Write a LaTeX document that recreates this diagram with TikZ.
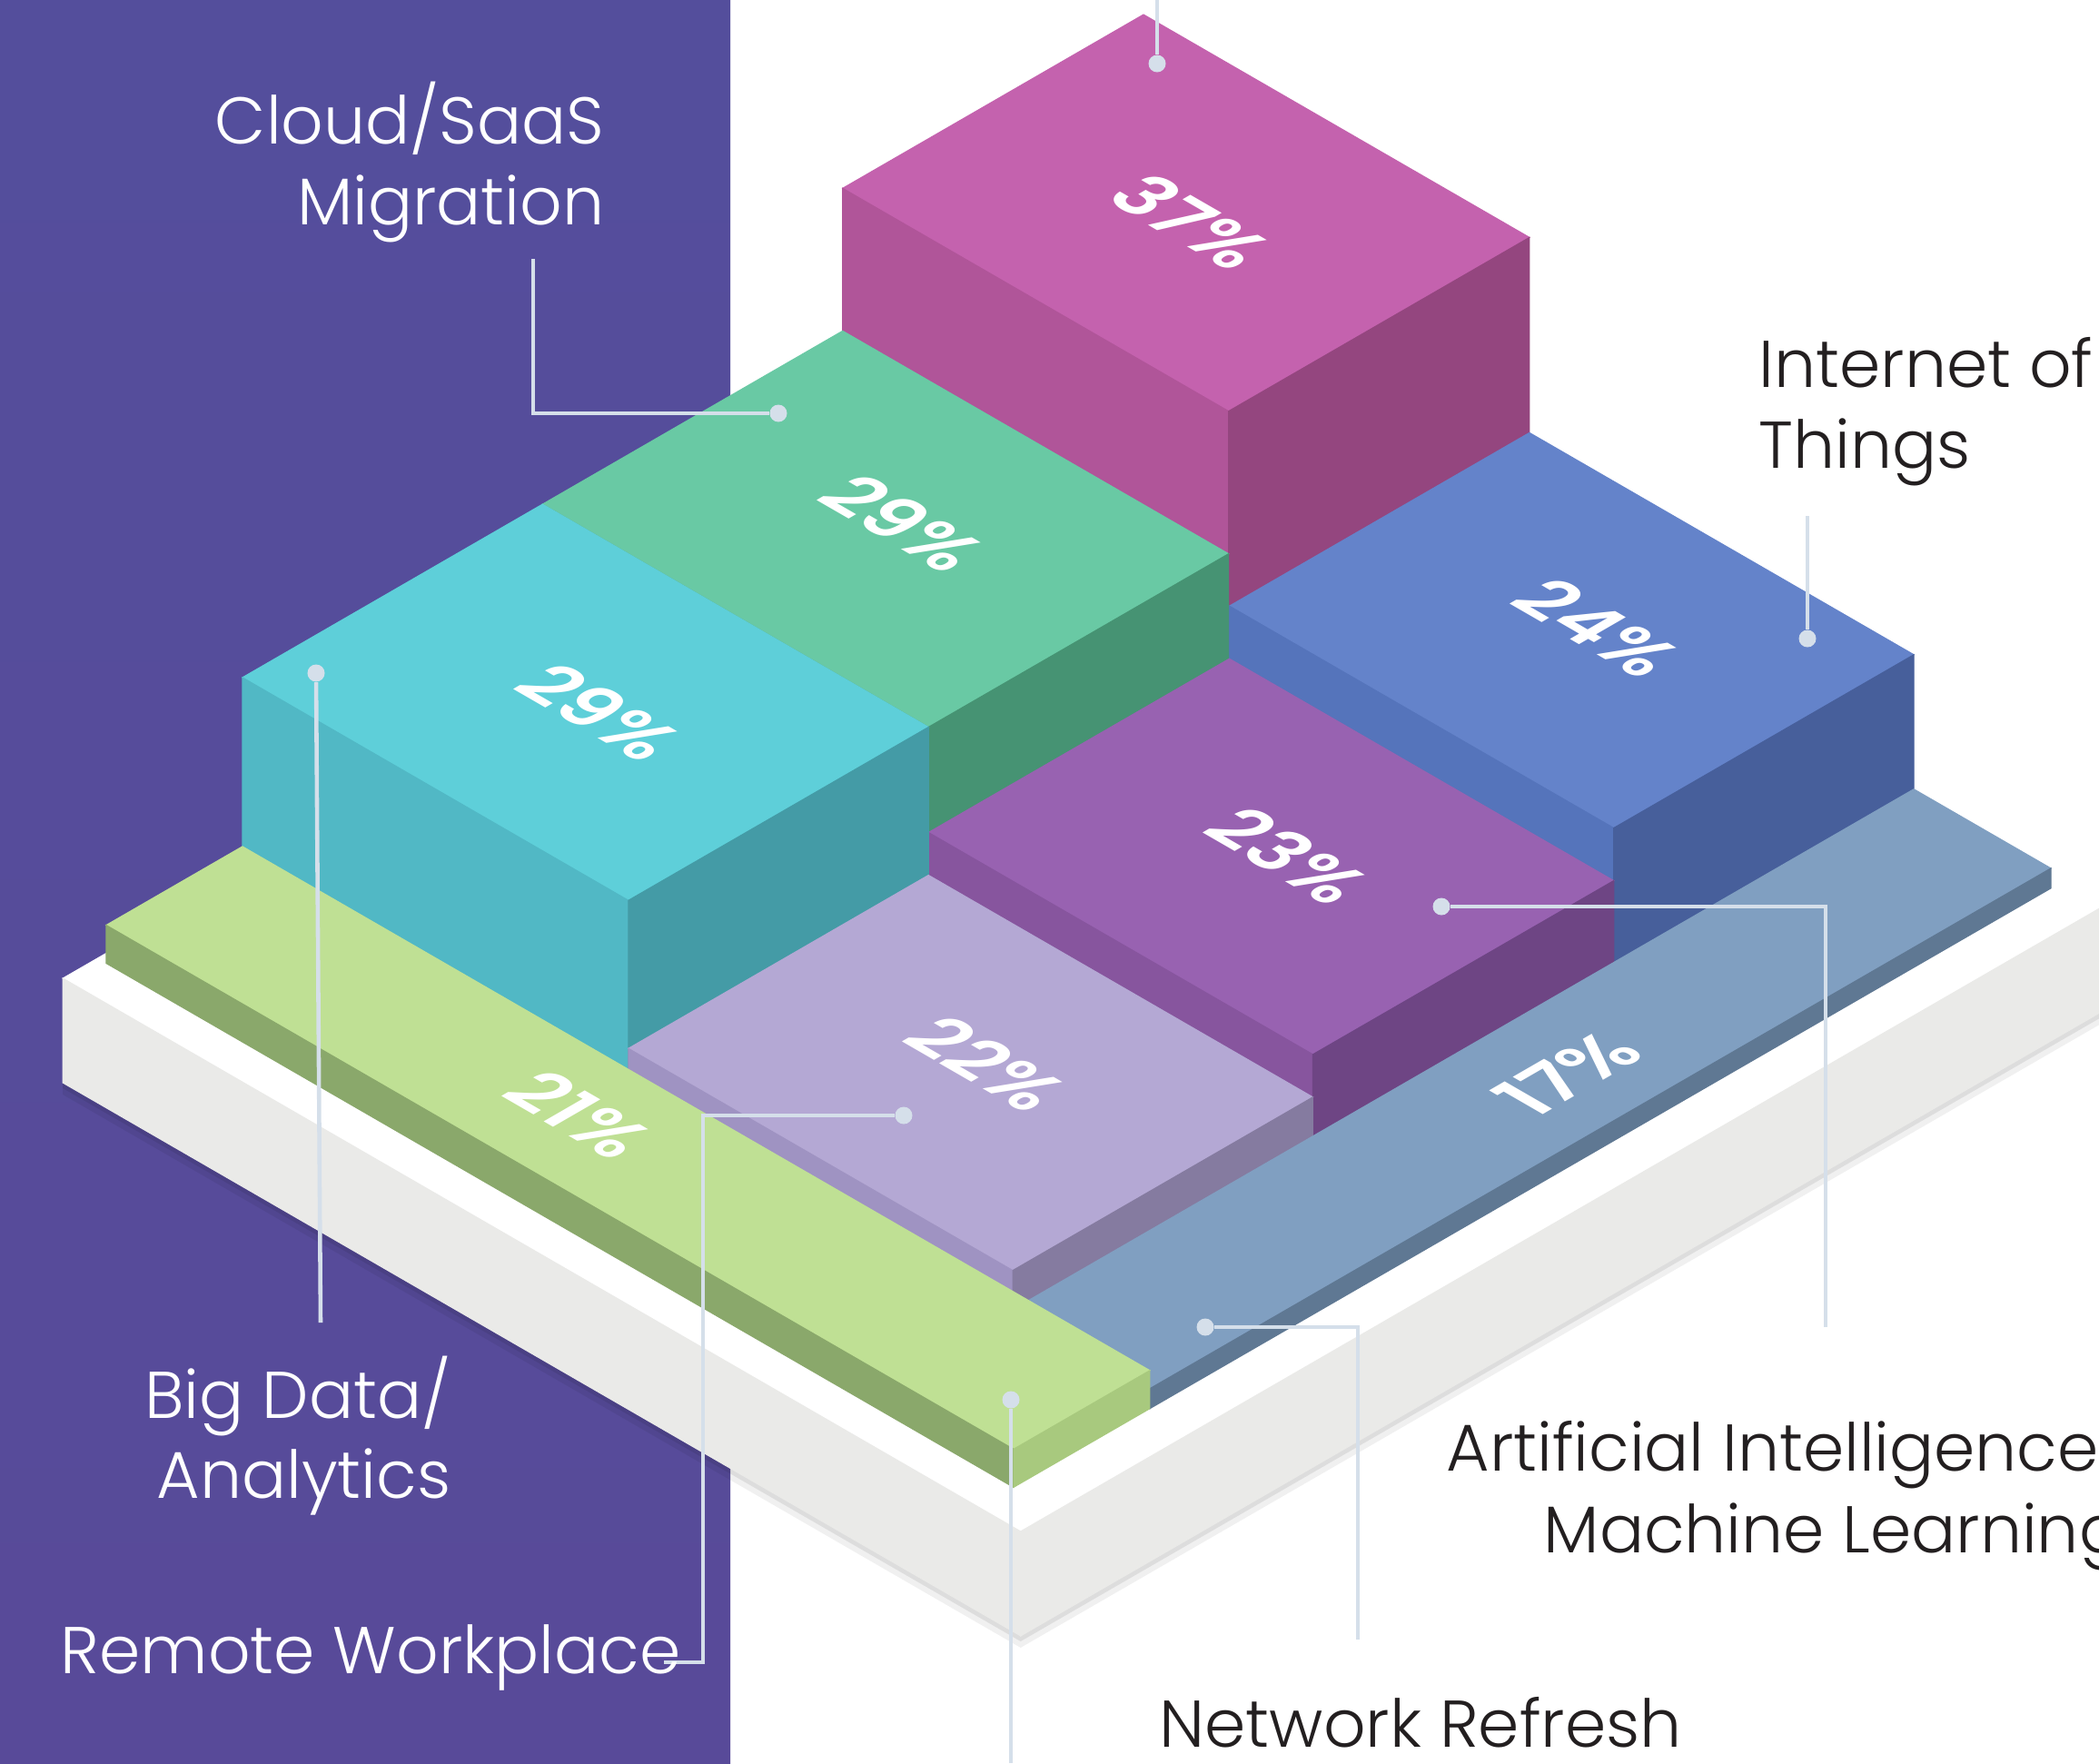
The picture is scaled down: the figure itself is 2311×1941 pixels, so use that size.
\documentclass[tikz,border=0pt]{standalone}
\usepackage{fontspec}
\usepackage{xcolor}
\usepackage{tikz}
\setmainfont{Poppins}
\newif\iflightfound
\IfFontExistsTF{Poppins Light}{\newfontfamily\labelfont{Poppins Light}\lightfoundtrue}{%
  \IfFontExistsTF{Poppins-Light}{\newfontfamily\labelfont{Poppins-Light}\lightfoundtrue}{\newcommand\labelfont{\normalfont}}}
\IfFontExistsTF{Poppins SemiBold}{\newfontfamily\pctfont{Poppins SemiBold}}{%
  \IfFontExistsTF{Poppins-SemiBold}{\newfontfamily\pctfont{Poppins-SemiBold}}{\newcommand\pctfont{\bfseries}}}
\iflightfound
  \newcommand\lblsize{\fontsize{20.7}{25}\selectfont}
\else
  \newcommand\lblsize{\fontsize{19.9}{24}\selectfont}
\fi

\definecolor{bgpurple}{RGB}{84,78,156}
\definecolor{bgpurpledark}{RGB}{88,74,153}
\definecolor{magtop}{HTML}{C462AE}
\definecolor{magleft}{HTML}{B05599}
\definecolor{magright}{HTML}{94467F}
\definecolor{grntop}{HTML}{69C9A4}
\definecolor{grnleft}{HTML}{58B08E}
\definecolor{grnright}{HTML}{469373}
\definecolor{cyntop}{HTML}{5ECFD9}
\definecolor{cynleft}{HTML}{51B8C5}
\definecolor{cynright}{HTML}{449BA6}
\definecolor{blutop}{HTML}{6483CA}
\definecolor{bluleft}{HTML}{5574BB}
\definecolor{bluright}{HTML}{475F9B}
\definecolor{purtop}{HTML}{9862B1}
\definecolor{purleft}{HTML}{87559E}
\definecolor{purright}{HTML}{6E4584}
\definecolor{lavtop}{HTML}{B4A8D4}
\definecolor{lavleft}{HTML}{9F93C2}
\definecolor{lavright}{HTML}{857BA0}
\definecolor{bstop}{HTML}{809FC1}
\definecolor{bsleft}{HTML}{6F8CAE}
\definecolor{bsright}{HTML}{5F7893}
\definecolor{gstop}{HTML}{BFE094}
\definecolor{gsleft}{HTML}{8AA86B}
\definecolor{gsright}{HTML}{A8C97E}
\definecolor{slabside}{HTML}{EAEAE8}
\definecolor{linecol}{HTML}{D5DFEA}
\definecolor{darktext}{HTML}{231F20}

% u0 u1 v0 v1 bottom top | top-, left-, right-face colour
\newcommand{\isobox}[9]{%
  \filldraw[fill=#7,draw=#7,line width=0.3pt] (#1,#3,#6) -- (#2,#3,#6) -- (#2,#4,#6) -- (#1,#4,#6) -- cycle;
  \filldraw[fill=#8,draw=#8,line width=0.3pt] (#1,#4,#6) -- (#2,#4,#6) -- (#2,#4,#5) -- (#1,#4,#5) -- cycle;
  \filldraw[fill=#9,draw=#9,line width=0.3pt] (#2,#3,#6) -- (#2,#4,#6) -- (#2,#4,#5) -- (#2,#3,#5) -- cycle;
}

\begin{document}
\begin{tikzpicture}[x=0.01cm,y=-0.01cm,
    conn/.style={draw=linecol,line width=1.3pt},
    dot/.style={circle,fill=linecol,inner sep=0pt,minimum size=0.19cm},
    lbl/.style={inner sep=0pt,font=\labelfont\lblsize},
    pct/.style={text=white,inner sep=0pt,font=\pctfont\fontsize{23.5}{28}\selectfont},
    pctu/.style={pct,cm={0.866,-0.5,0.866,0.5,(0,0)}},
    pctv/.style={pct,cm={0.866,0.5,-0.866,0.5,(0,0)}}]
    \useasboundingbox (0,0) rectangle (2311,1941);
    \fill[white] (0,0) rectangle (2311,1941);
    \shade[top color=bgpurple,bottom color=bgpurpledark] (0,0) rectangle (804,1941);

    \begin{scope}[shift={(1259,401)},x={(0.00866cm,-0.005cm)},y={(-0.00866cm,-0.005cm)},z={(0cm,0.01cm)}]
        % shadow and base slab
        \fill[black,opacity=0.06] (-11,1361,-100) -- (-11,1361,-128) -- (1205,1361,-128) -- (1205,-27,-128) -- (1205,-27,-100) -- cycle;
        \fill[black,opacity=0.08] (-11,1361,-100) -- (-11,1361,-121) -- (1205,1361,-121) -- (1205,-27,-121) -- (1205,-27,-100) -- cycle;
        \isobox{-11}{1205}{-27}{1361}{-115}{0}{white}{slabside}{slabside}
        % blocks, back to front
        \isobox{0}{490}{0}{382}{0}{385}{magtop}{magleft}{magright}
        \isobox{490}{978}{0}{381}{0}{170}{blutop}{bluleft}{bluright}
        \isobox{0}{490}{382}{763}{0}{228}{grntop}{grnleft}{grnright}
        \isobox{490}{978}{381}{763}{0}{112}{purtop}{purleft}{purright}
        \isobox{0}{490}{763}{1144}{0}{228}{cyntop}{cynleft}{cynright}
        \isobox{490}{978}{763}{1144}{0}{65}{lavtop}{lavleft}{lavright}
        \isobox{978}{1152}{0}{1144}{0}{22}{bstop}{bsleft}{bsright}
        \isobox{0}{1152}{1144}{1317}{0}{42}{gstop}{gsleft}{gsright}
    \end{scope}

    % values on the top faces
    \node[pctu] (p37) at (1311,244) {37\%};
    \node[pctu] (p29g) at (994,576) {29\%};
    \node[pctu] (p29c) at (660,784) {29\%};
    \node[pctu] (p24) at (1759,691) {24\%};
    \node[pctu] (p23) at (1418,942) {23\%};
    \node[pctu] (p22) at (1086,1171) {22\%};
    \node[pctu] (p21) at (638,1227) {21\%};
    \node[pctv] (p17) at (1726,1182) {17\%};

    % connector dots
    \node[dot] (dmag) at (1274,70) {};
    \node[dot] (dcloud) at (857,455) {};
    \node[dot] (dbig) at (348,741) {};
    \node[dot] (diot) at (1990,703) {};
    \node[dot] (dai) at (1587,998) {};
    \node[dot] (dlav) at (995,1228) {};
    \node[dot] (dnet) at (1327,1461) {};
    \node[dot] (dgs) at (1113,1541) {};

    \coordinate (emag) at (1274,0);
    \coordinate (ecloud) at (587,285);
    \coordinate (ebig) at (353,1456);
    \coordinate (eiot) at (1990,568);
    \coordinate (eai) at (2010,1461);
    \coordinate (ework) at (731,1830);
    \coordinate (kwork) at (774,1830);
    \coordinate (enet) at (1495,1805);
    \coordinate (egs) at (1113,1941);

    \draw[conn] (dmag) -- (emag);
    \draw[conn] (ecloud) |- (dcloud);
    \draw[conn] (dbig) -- (ebig);
    \draw[conn] (diot) -- (eiot);
    \draw[conn] (eai) |- (dai);
    \draw[conn] (ework) -- (kwork) |- (dlav);
    \draw[conn] (enet) |- (dnet);
    \draw[conn] (dgs) -- (egs);

    % labels
    \node[lbl,text=white,anchor=base east] (cloud1) at (666,158) {Cloud/SaaS};
    \node[lbl,text=white,anchor=base east] (cloud2) at (666,247) {Migration};
    \node[lbl,text=white,anchor=base east] (big1) at (497,1561) {Big Data/};
    \node[lbl,text=white,anchor=base east] (big2) at (497,1649) {Analytics};
    \node[lbl,text=white,anchor=base west] (work) at (66,1842) {Remote Workplace};
    \node[lbl,text=darktext,anchor=base west] (iot1) at (1936,426) {Internet of};
    \node[lbl,text=darktext,anchor=base west] (iot2) at (1936,515) {Things};
    \node[lbl,text=darktext,anchor=base west] (ai1) at (1592,1619) {Artificial Intelligence};
    \node[lbl,text=darktext,anchor=base west] (ai2) at (1699,1709) {Machine Learning};
    \node[lbl,text=darktext,anchor=base west] (net) at (1276,1923) {Network Refresh};
\end{tikzpicture}
\end{document}
